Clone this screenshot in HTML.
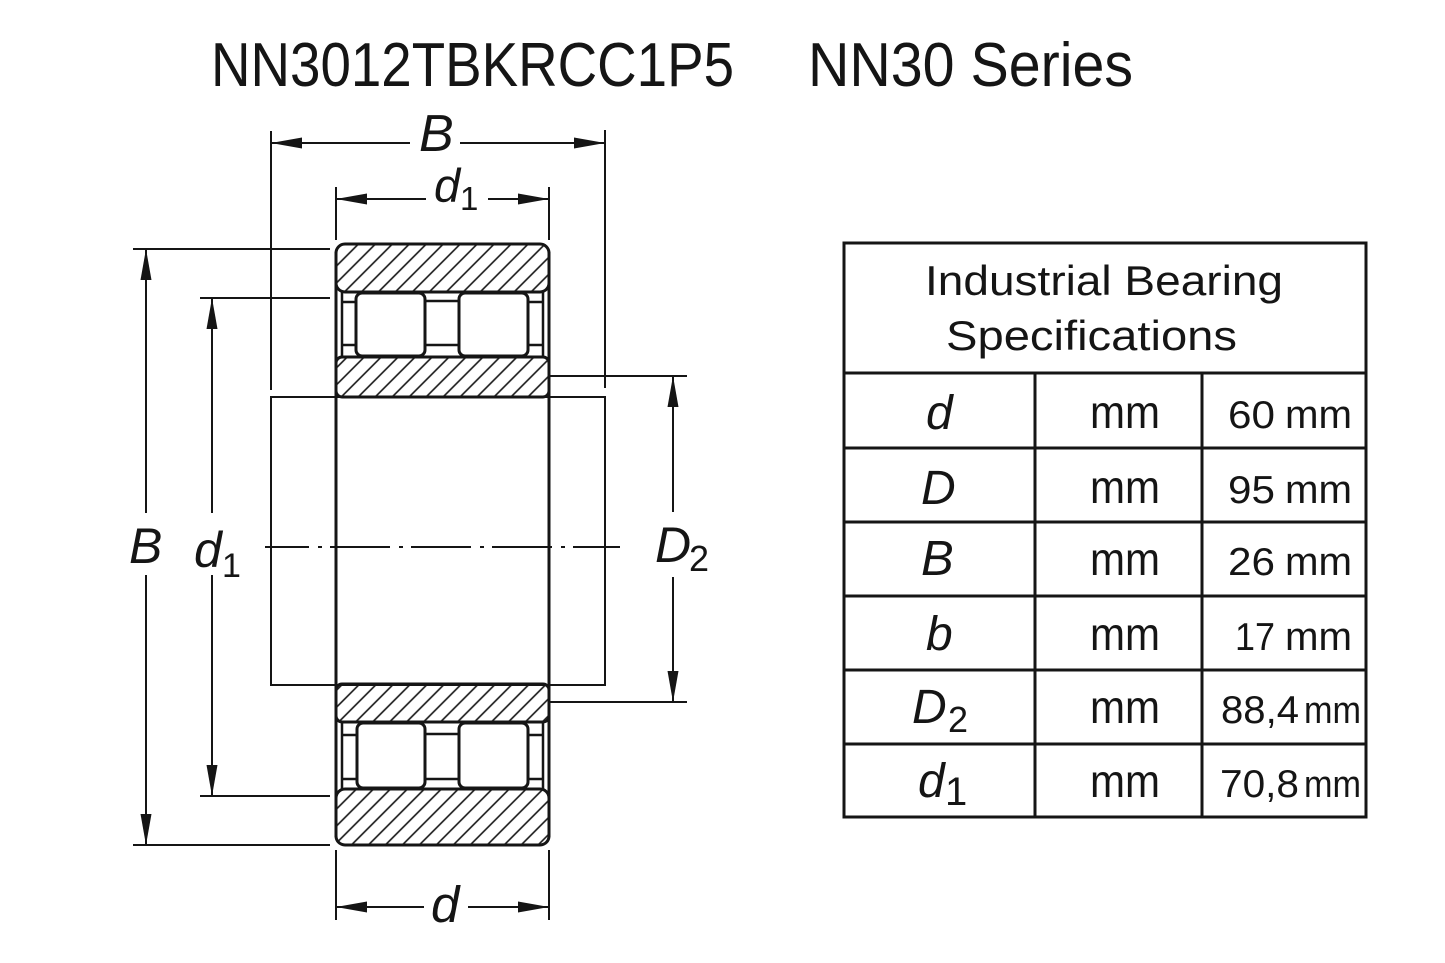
<!DOCTYPE html>
<html><head><meta charset="utf-8"><style>
html,body{margin:0;padding:0;background:#fff;}
svg{display:block;}
text{font-family:"Liberation Sans",sans-serif;fill:#151515;}
.it{font-style:italic;}
</style></head><body>
<svg width="1445" height="963" viewBox="0 0 1445 963" xmlns="http://www.w3.org/2000/svg">
<defs>
<pattern id="h" patternUnits="userSpaceOnUse" width="12" height="12" patternTransform="rotate(45)">
<line x1="6" y1="-1" x2="6" y2="13" stroke="#151515" stroke-width="1.6"/>
</pattern>
</defs>
<rect width="1445" height="963" fill="#fff"/>

<!-- Title -->
<text x="211" y="86" font-size="62" textLength="523" lengthAdjust="spacingAndGlyphs">NN3012TBKRCC1P5</text>
<text x="808" y="86" font-size="62" textLength="325" lengthAdjust="spacingAndGlyphs">NN30 Series</text>

<g stroke="#151515" stroke-width="2" fill="none">
<line x1="271" y1="143" x2="410" y2="143"/>
<line x1="460" y1="143" x2="605" y2="143"/>
<line x1="271" y1="131" x2="271" y2="390"/>
<line x1="605" y1="130" x2="605" y2="388"/>
<line x1="336" y1="199" x2="426" y2="199"/>
<line x1="488" y1="199" x2="549" y2="199"/>
<line x1="336" y1="187" x2="336" y2="240"/>
<line x1="549" y1="187" x2="549" y2="240"/>
<line x1="133" y1="249" x2="330" y2="249"/>
<line x1="200" y1="298" x2="330" y2="298"/>
<line x1="200" y1="796" x2="330" y2="796"/>
<line x1="133" y1="845" x2="330" y2="845"/>
<line x1="146" y1="249" x2="146" y2="513"/>
<line x1="146" y1="575" x2="146" y2="845"/>
<line x1="212" y1="298" x2="212" y2="513"/>
<line x1="212" y1="575" x2="212" y2="796"/>
<line x1="549" y1="376" x2="687" y2="376"/>
<line x1="549" y1="702" x2="687" y2="702"/>
<line x1="673" y1="376" x2="673" y2="512"/>
<line x1="673" y1="577" x2="673" y2="702"/>
<rect x="271" y="397" width="334" height="288"/>
<line x1="336" y1="850" x2="336" y2="920"/>
<line x1="549" y1="850" x2="549" y2="920"/>
<line x1="336" y1="907" x2="424" y2="907"/>
<line x1="468" y1="907" x2="549" y2="907"/>
<line x1="265" y1="547" x2="620" y2="547" stroke-dasharray="60 9 4 8" stroke-dashoffset="16"/>
</g>

<g fill="#151515">
<polygon points="271,143 302,137.5 302,148.5"/>
<polygon points="605,143 574,137.5 574,148.5"/>
<polygon points="336,199 367,193.5 367,204.5"/>
<polygon points="549,199 518,193.5 518,204.5"/>
<polygon points="336,907 367,901.5 367,912.5"/>
<polygon points="549,907 518,901.5 518,912.5"/>
<polygon points="146,249 140.5,280 151.5,280"/>
<polygon points="146,845 140.5,814 151.5,814"/>
<polygon points="212,298 206.5,329 217.5,329"/>
<polygon points="212,796 206.5,765 217.5,765"/>
<polygon points="673,376 667.5,407 678.5,407"/>
<polygon points="673,702 667.5,671 678.5,671"/>
</g>

<g stroke="#151515" stroke-width="3" fill="none">
<rect x="336" y="244" width="213" height="48" rx="9" fill="url(#h)"/>
<rect x="336" y="357" width="213" height="40" rx="6" fill="url(#h)"/>
<rect x="356" y="293" width="69" height="63" rx="6" fill="#fff"/>
<rect x="459" y="293" width="69" height="63" rx="6" fill="#fff"/>
<line x1="342" y1="292" x2="342" y2="357" stroke-width="2.5"/>
<line x1="543" y1="292" x2="543" y2="357" stroke-width="2.5"/>
<line x1="342" y1="302" x2="356" y2="302" stroke-width="2.5"/>
<line x1="342" y1="345" x2="356" y2="345" stroke-width="2.5"/>
<line x1="528" y1="302" x2="543" y2="302" stroke-width="2.5"/>
<line x1="528" y1="345" x2="543" y2="345" stroke-width="2.5"/>
<line x1="425" y1="301" x2="459" y2="301" stroke-width="2.5"/>
<line x1="425" y1="345" x2="459" y2="345" stroke-width="2.5"/>
<rect x="336" y="684" width="213" height="38" rx="6" fill="url(#h)"/>
<rect x="336" y="789" width="213" height="56" rx="9" fill="url(#h)"/>
<rect x="357" y="723" width="68" height="65" rx="6" fill="#fff"/>
<rect x="459" y="723" width="69" height="65" rx="6" fill="#fff"/>
<line x1="342" y1="722" x2="342" y2="789" stroke-width="2.5"/>
<line x1="543" y1="722" x2="543" y2="789" stroke-width="2.5"/>
<line x1="342" y1="735" x2="357" y2="735" stroke-width="2.5"/>
<line x1="342" y1="779" x2="357" y2="779" stroke-width="2.5"/>
<line x1="528" y1="735" x2="543" y2="735" stroke-width="2.5"/>
<line x1="528" y1="779" x2="543" y2="779" stroke-width="2.5"/>
<line x1="425" y1="734" x2="459" y2="734" stroke-width="2.5"/>
<line x1="425" y1="779" x2="459" y2="779" stroke-width="2.5"/>
<line x1="336" y1="252" x2="336" y2="837"/>
<line x1="549" y1="252" x2="549" y2="837"/>
</g>

<text class="it" x="419" y="151" font-size="52">B</text>
<text class="it" x="434" y="202" font-size="47">d</text>
<text x="460" y="210" font-size="33">1</text>
<text class="it" x="129" y="563" font-size="50">B</text>
<text class="it" x="194" y="567" font-size="50">d</text>
<text x="222" y="577" font-size="34">1</text>
<text class="it" x="655" y="562" font-size="50">D</text>
<text x="689" y="571" font-size="36">2</text>
<text class="it" x="431" y="922" font-size="51">d</text>

<g stroke="#151515" stroke-width="3" fill="none">
<rect x="844" y="243" width="522" height="574"/>
<line x1="844" y1="373" x2="1366" y2="373"/>
<line x1="844" y1="448" x2="1366" y2="448"/>
<line x1="844" y1="522" x2="1366" y2="522"/>
<line x1="844" y1="596" x2="1366" y2="596"/>
<line x1="844" y1="670" x2="1366" y2="670"/>
<line x1="844" y1="744" x2="1366" y2="744"/>
<line x1="1035" y1="373" x2="1035" y2="817"/>
<line x1="1202" y1="373" x2="1202" y2="817"/>
</g>
<text x="925" y="295" font-size="42" textLength="358" lengthAdjust="spacingAndGlyphs">Industrial Bearing</text>
<text x="946" y="350" font-size="42" textLength="291" lengthAdjust="spacingAndGlyphs">Specifications</text>

<text class="it" x="926" y="429" font-size="48">d</text>
<text class="it" x="921" y="504" font-size="48">D</text>
<text class="it" x="921" y="575" font-size="49">B</text>
<text class="it" x="926" y="650" font-size="48">b</text>
<text class="it" x="912" y="723" font-size="48">D</text>
<text x="948" y="732" font-size="36">2</text>
<text class="it" x="918" y="797" font-size="48">d</text>
<text x="945" y="805" font-size="40">1</text>

<g font-size="46">
<text x="1090" y="428" textLength="70" lengthAdjust="spacingAndGlyphs">mm</text>
<text x="1090" y="503" textLength="70" lengthAdjust="spacingAndGlyphs">mm</text>
<text x="1090" y="575" textLength="70" lengthAdjust="spacingAndGlyphs">mm</text>
<text x="1090" y="650" textLength="70" lengthAdjust="spacingAndGlyphs">mm</text>
<text x="1090" y="723" textLength="70" lengthAdjust="spacingAndGlyphs">mm</text>
<text x="1090" y="797" textLength="70" lengthAdjust="spacingAndGlyphs">mm</text>
</g>

<text x="1228" y="428" font-size="39" textLength="47" lengthAdjust="spacingAndGlyphs">60</text>
<text x="1285" y="428" font-size="40" textLength="67" lengthAdjust="spacingAndGlyphs">mm</text>
<text x="1228" y="503" font-size="39" textLength="47" lengthAdjust="spacingAndGlyphs">95</text>
<text x="1285" y="503" font-size="40" textLength="67" lengthAdjust="spacingAndGlyphs">mm</text>
<text x="1228" y="575" font-size="39" textLength="47" lengthAdjust="spacingAndGlyphs">26</text>
<text x="1285" y="575" font-size="40" textLength="67" lengthAdjust="spacingAndGlyphs">mm</text>
<text x="1235" y="650" font-size="39" textLength="40" lengthAdjust="spacingAndGlyphs">17</text>
<text x="1285" y="650" font-size="40" textLength="67" lengthAdjust="spacingAndGlyphs">mm</text>
<text x="1221" y="723" font-size="39" textLength="78" lengthAdjust="spacingAndGlyphs">88,4</text>
<text x="1304" y="723" font-size="38" textLength="57" lengthAdjust="spacingAndGlyphs">mm</text>
<text x="1220" y="797" font-size="39" textLength="79" lengthAdjust="spacingAndGlyphs">70,8</text>
<text x="1304" y="797" font-size="38" textLength="57" lengthAdjust="spacingAndGlyphs">mm</text>
</svg>
</body></html>
